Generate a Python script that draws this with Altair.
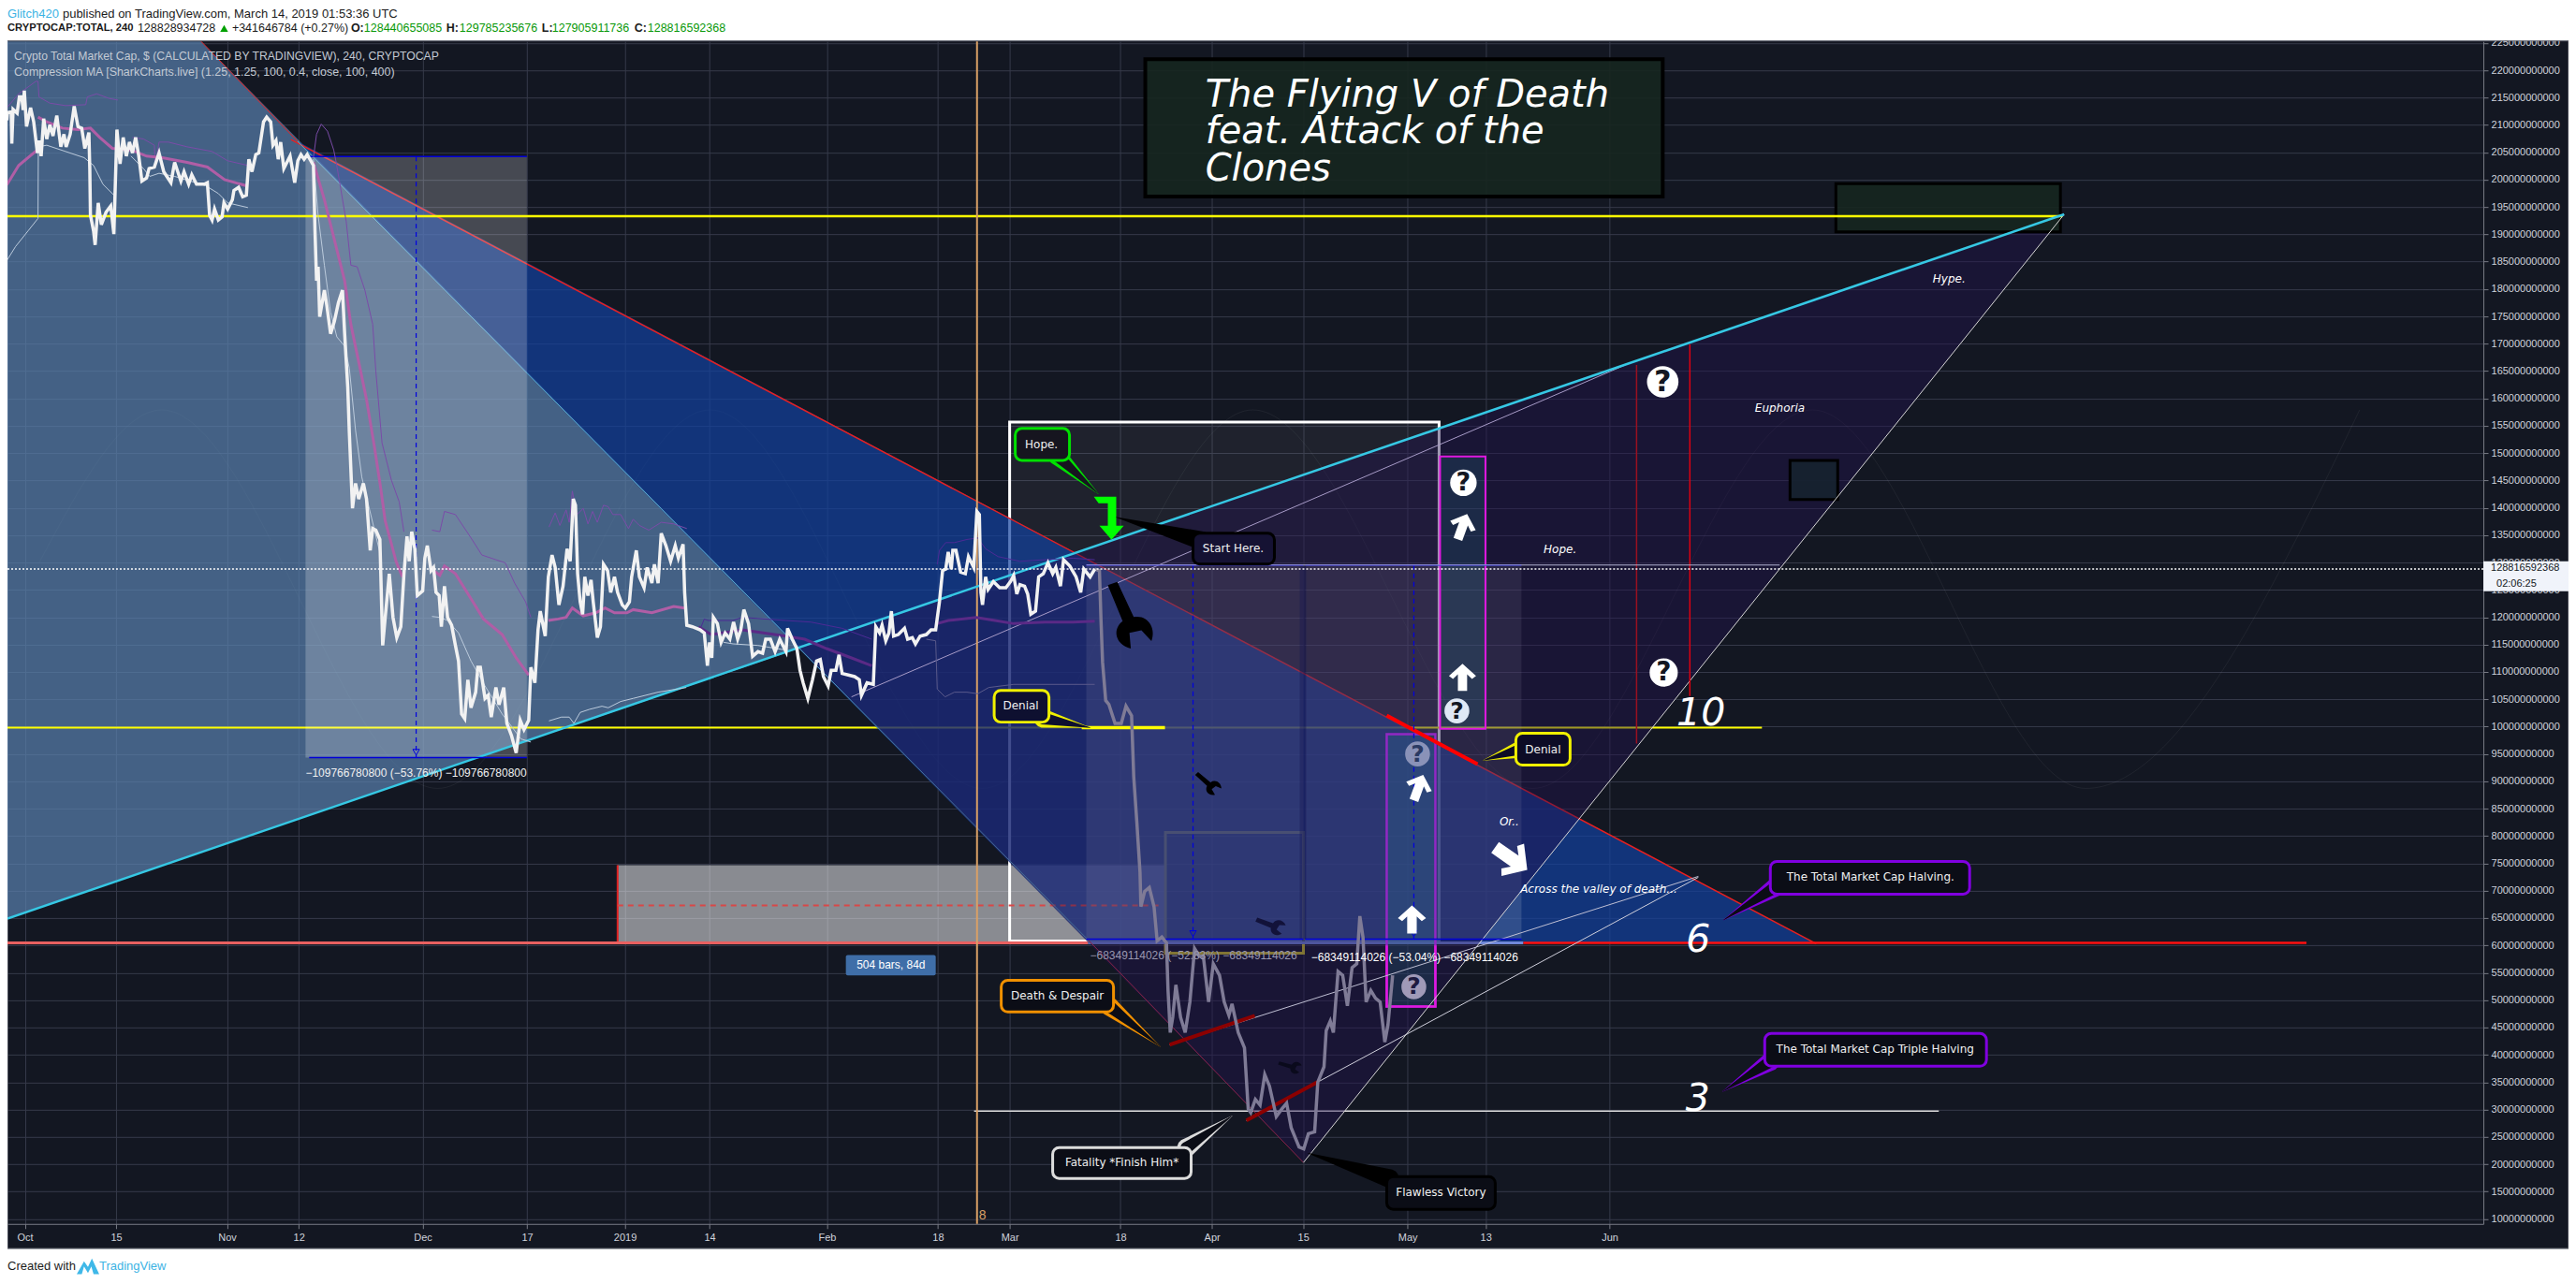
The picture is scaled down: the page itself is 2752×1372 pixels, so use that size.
import altair as alt
import pandas as pd

# ---------- readings: (days since 2019-03-01, market cap in $bn) ----------
PRICE_BRIGHT = [(-153.76,210.85),(-153.66,212.27),(-153.09,212.39),(-153.0,206.57),(-152.8,212.84),(-152.18,212.16),(-151.84,215.12),(-151.46,215.12),(-151.27,212.73),(-151.08,216.26),(-150.74,209.71),(-150.12,213.13),(-149.64,210.56),(-149.07,204.86),(-148.78,207.14),(-148.5,204.3),(-148.11,211.13),(-147.64,207.43),(-147.16,210.0),(-146.68,208.0),(-146.1,211.7),(-145.48,206.0),(-145.0,208.3),(-144.67,206.0),(-144.05,208.3),(-143.43,213.4),(-142.85,209.7),(-142.28,209.4),(-141.8,205.7),(-141.18,208.6),(-141.04,202.0),(-140.94,193.5),(-140.46,190.6),(-140.22,188.06),(-139.75,195.75),(-139.27,191.76),(-138.55,194.04),(-137.83,195.18),(-137.35,190.05),(-136.88,209.14),(-136.4,202.87),(-135.92,207.71),(-135.44,204.3),(-134.96,206.86),(-134.49,204.87),(-134.01,207.71),(-133.53,204.3),(-133.05,199.74),(-132.33,200.31),(-131.95,202.02),(-131.14,202.3),(-130.42,204.87),(-129.7,201.45),(-128.6,199.45),(-128.03,203.16),(-127.07,199.74),(-126.59,201.45),(-125.88,199.17),(-125.4,200.88),(-124.68,199.17),(-123.48,199.17),(-123.01,199.45),(-122.67,193.47),(-122.29,192.61),(-121.91,194.61),(-121.33,192.61),(-120.76,193.18),(-120.47,195.75),(-119.9,194.61),(-119.18,196.32),(-118.94,198.03),(-118.22,198.6),(-117.6,196.89),(-117.03,197.17),(-116.65,203.73),(-116.17,201.45),(-115.59,204.58),(-115.12,204.87),(-114.4,210.56),(-113.92,211.42),(-113.3,210.56),(-112.96,206.29),(-112.49,207.14),(-112.15,203.73),(-111.77,206.86),(-111.29,202.02),(-110.33,204.3),(-109.62,199.45),(-109.14,203.44),(-108.66,204.58),(-108.18,203.73),(-107.7,204.58),(-106.75,202.6),(-106.51,190.62),(-106.27,181.5),(-106.03,184.07),(-105.79,174.95),(-105.07,179.79),(-104.69,176.95),(-104.12,171.82),(-103.54,174.09),(-102.92,177.51),(-102.3,179.79),(-101.96,171.82),(-101.49,162.13),(-101.25,153.87),(-100.76,139.91),(-100.29,144.47),(-99.81,141.62),(-99.09,144.47),(-98.61,141.62),(-98.04,132.22),(-97.66,136.21),(-97.18,135.92),(-96.56,134.21),(-96.13,114.84),(-95.74,119.97),(-95.12,127.95),(-94.55,119.97),(-93.97,116.27),(-93.35,118.26),(-92.87,127.95),(-92.4,134.78),(-92.06,130.23),(-91.68,135.64),(-91.2,132.5),(-90.82,123.96),(-90.0,124.81),(-89.67,130.8),(-89.29,133.08),(-88.71,128.52),(-88.33,129.09),(-87.95,124.53),(-87.47,123.96),(-87.13,118.26),(-86.66,125.67),(-86.18,119.97),(-85.56,118.54),(-84.98,114.84),(-84.5,112.0),(-84.03,102.31),(-83.55,101.45),(-83.07,108.57),(-82.59,103.45),(-81.87,106.3),(-81.54,110.85),(-81.16,110.85),(-80.44,105.16),(-79.96,105.72),(-79.48,101.74),(-78.77,107.15),(-78.29,104.01),(-77.57,107.15),(-77.09,100.6),(-76.37,98.32),(-75.66,95.18),(-75.04,101.17),(-74.46,99.46),(-73.74,101.17),(-73.41,110.85),(-72.79,108.0),(-72.31,117.69),(-71.97,121.11),(-71.59,118.83),(-71.21,116.55),(-70.73,127.38),(-70.16,131.37),(-69.68,129.09),(-69.11,122.25),(-68.48,125.67),(-67.86,132.5),(-67.38,130.23),(-66.91,141.62),(-66.57,140.48),(-66.24,127.95),(-65.85,122.82),(-65.47,120.54),(-65.14,127.38),(-64.66,123.96),(-64.18,126.81),(-63.85,122.82),(-63.22,116.27),(-62.74,118.26),(-62.27,129.66),(-61.65,128.52),(-61.17,124.53),(-60.59,127.38),(-60.11,124.53),(-59.4,122.25),(-58.92,121.68),(-58.3,122.82),(-57.96,127.38),(-57.24,132.22),(-56.77,127.38),(-56.05,125.38),(-55.57,129.09),(-54.85,126.24),(-54.47,129.66),(-53.9,126.24),(-53.42,135.35),(-52.7,133.08),(-51.98,130.23),(-51.27,133.08),(-50.79,130.8),(-50.07,133.36),(-49.83,124.53),(-49.5,118.54),(-48.64,118.26),(-47.44,117.69),(-46.82,117.12),(-46.34,111.14),(-46.01,115.41),(-45.67,112.56),(-45.43,119.97),(-44.81,118.83),(-44.24,115.41),(-43.62,117.12),(-42.9,115.98),(-42.33,119.11),(-41.7,115.98),(-41.22,117.69),(-40.75,121.39),(-40.03,118.83),(-39.41,112.85),(-38.59,113.7),(-37.88,113.42),(-37.4,115.98),(-36.68,115.98),(-35.96,113.7),(-35.25,115.98),(-34.29,113.7),(-34.05,117.97),(-33.33,115.98),(-32.62,114.27),(-32.14,110.28),(-31.66,108.0),(-30.94,105.15),(-30.23,108.57),(-29.6,112.0),(-29.03,112.28),(-28.55,109.14),(-27.83,107.43),(-27.36,110.28),(-26.64,110.28),(-26.16,113.13),(-25.68,109.71),(-24.73,109.43),(-23.77,109.14),(-23.05,108.57),(-22.72,105.72),(-21.86,108.0),(-20.9,107.72),(-20.52,118.26),(-19.94,117.12),(-19.56,118.54),(-18.99,115.69),(-18.51,117.12),(-18.13,121.11),(-17.79,116.55),(-17.07,116.83),(-16.12,117.97),(-15.64,115.98),(-14.92,116.26),(-14.44,115.12),(-13.73,116.55),(-12.77,116.83),(-12.05,117.69),(-11.34,117.69),(-10.76,122.82),(-10.28,128.52),(-9.8,128.8),(-9.42,131.93),(-8.94,128.8),(-8.71,132.22),(-8.23,132.22),(-7.51,128.23),(-6.79,127.95),(-6.31,131.08),(-5.5,129.09),(-5.02,139.34),(-4.64,138.77),(-4.4,124.53),(-4.16,122.25),(-3.68,127.38),(-3.3,125.1),(-2.49,126.52),(-1.53,125.38),(-0.57,125.38),(0.14,126.52),(0.62,127.66),(1.1,124.24),(1.58,125.95),(2.29,125.67),(2.77,124.24),(3.25,120.54),(3.97,121.11),(4.45,127.38),(5.16,127.95),(5.88,129.94),(6.6,127.95),(7.08,129.09),(7.79,125.67),(8.27,130.51),(9.23,129.37),(10.19,127.38),(10.9,124.53),(11.38,128.8),(12.34,127.38),(13.05,128.8)]
PRICE_FADED = [(13.05,128.8),(13.77,128.51),(14.01,119.44),(14.25,111.76),(14.73,104.78),(15.21,104.09),(16.16,100.6),(17.12,100.6),(17.84,103.74),(18.7,102.0),(19.03,90.83),(19.51,82.45),(19.99,73.38),(20.13,67.1),(20.71,69.89),(21.42,70.59),(22.14,67.1),(22.62,60.82),(23.34,61.52),(24.05,60.47),(24.29,51.75),(24.63,44.07),(25.01,46.86),(25.49,52.8),(26.21,46.86),(26.92,44.07),(27.64,49.66),(28.36,59.43),(29.08,58.03),(29.7,58.03),(30.51,49.66),(31.23,56.63),(32.18,54.54),(32.9,49.66),(33.62,47.21),(34.1,49.31),(35.05,44.07),(36.01,41.28),(36.58,30.12),(36.97,29.42),(37.68,31.86),(38.4,30.81),(39.12,36.39),(39.84,34.3),(40.89,28.72),(41.75,30.12),(42.47,31.16),(43.18,26.63),(44.38,23.14),(45.1,22.79),(45.81,25.58),(46.77,25.93),(47.25,35.0),(48.2,37.79),(48.54,44.42),(49.16,46.17),(49.64,44.07),(50.36,55.24),(51.07,54.54),(51.79,48.96),(52.51,55.93),(53.23,56.63),(53.7,65.36),(54.18,61.52),(54.66,49.66),(55.38,51.75),(56.1,50.35),(56.81,49.66),(57.53,42.33),(58.01,45.47),(58.73,54.54)]

MA_PINK = [
 [(-153.76,199.05),(-151.94,202.59),(-149.07,205.43)],
 [(-148.98,211.42),(-147.64,210.56),(-145.25,209.42),(-142.85,209.14),(-140.94,209.42),(-139.51,207.71),(-137.59,205.72),(-134.72,205.43),(-132.33,204.3),(-129.94,204.01),(-126.12,203.16),(-123.01,202.3),(-120.38,200.0),(-117.03,198.88)],
 [(-106.75,203.16),(-105.07,196.32),(-103.4,188.34),(-101.96,181.5),(-101.01,173.53),(-99.81,166.69),(-98.62,159.85),(-97.42,151.3),(-96.47,143.89),(-95.75,137.63),(-94.08,130.22),(-93.11,127.38)],
 [(-88.33,128.52),(-87.37,127.66),(-86.66,129.37),(-84.98,127.95),(-82.59,123.39),(-80.68,119.68),(-77.81,116.84),(-75.66,112.56),(-73.74,109.43)],
 [(-70.73,119.4),(-69.2,119.68),(-68.01,119.97),(-67.05,121.68),(-65.37,120.25),(-63.46,120.82),(-62.03,121.68),(-60.59,120.82),(-58.68,120.82),(-57.72,121.39),(-54.85,120.82),(-51.51,121.96),(-49.83,121.68)],
]
MA_PURPLE = [
 [(-47.68,118.26),(-45.77,116.84),(-40.99,117.69),(-34.29,116.55),(-31.42,115.98),(-28.07,114.27),(-24.25,112.56),(-21.14,111.14)],
 [(-11.1,118.83),(-9.42,119.4),(-5.12,119.97),(-2.25,119.4),(0.62,118.83),(5.4,119.11),(9.71,119.11),(13.05,119.28)],
]
BAND_UPPER = [
 [(-153.76,213.13),(-151.94,215.69),(-149.31,217.97),(-148.98,217.97),(-148.83,215.12),(-147.16,213.98),(-144.77,213.53),(-141.66,213.7),(-141.42,215.12),(-139.98,215.69),(-138.07,214.84),(-136.73,214.55)],
 [(-134.49,207.71),(-132.81,207.43),(-131.14,206.29),(-130.99,202.59),(-130.42,206.86),(-128.98,206.86),(-126.12,206.0),(-122.29,205.15),(-119.9,203.44),(-116.79,202.59)],
 [(-106.75,204.01),(-106.27,208.28),(-105.55,210.16),(-104.59,208.85),(-103.64,205.43),(-103.26,203.16),(-102.68,199.17),(-101.72,192.33),(-101.01,184.35),(-100.05,184.07),(-98.86,179.79),(-97.66,173.53),(-97.18,164.98),(-96.23,151.87),(-94.79,145.04),(-93.59,141.05),(-92.88,135.63)],
 [(-88.57,135.92),(-87.37,135.64),(-86.66,139.34),(-84.98,138.77),(-82.59,134.5),(-80.92,131.37),(-78.77,130.51),(-77.33,129.94),(-75.9,126.24),(-74.22,122.82),(-73.41,119.97)],
 [(-70.63,136.49),(-69.68,139.06),(-68.96,136.78),(-68.01,139.63),(-67.53,137.35),(-67.05,143.05),(-66.33,138.77),(-65.37,139.91),(-64.66,137.06),(-63.94,139.34),(-63.22,137.35),(-62.27,140.48),(-61.55,140.2),(-60.83,138.77),(-59.64,138.77),(-58.44,136.21),(-57.72,137.92),(-56.77,136.78),(-55.33,135.92),(-53.42,137.35),(-51.51,137.06),(-49.5,136.21)],
]
BAND_UPPER_DIM = [
 [(-47.3,118.26),(-46.82,119.68),(-46.25,119.4),(-42.42,119.4),(-40.99,119.97),(-34.29,119.4),(-30.47,119.11),(-25.68,117.97),(-21.14,115.98)],
 [(-11.1,129.65),(-10.76,132.22),(-9.8,133.64),(-8.47,133.64),(-6.55,134.21),(-4.88,134.5),(-3.68,132.5),(-1.77,131.08),(1.58,130.22),(5.4,130.51),(9.71,130.79),(13.05,130.51)],
]
BAND_LOWER = [
 [(-153.76,185.21),(-152.42,187.77),(-150.51,190.62),(-148.98,192.9),(-148.93,206.0),(-147.64,206.29),(-144.77,205.15),(-141.9,204.01),(-140.46,202.59),(-139.03,199.17),(-137.11,196.89)],
 [(-134.72,204.3),(-132.81,202.02),(-131.85,200.59),(-130.42,201.16),(-128.03,200.59),(-123.25,198.88),(-121.33,197.46),(-119.9,195.75),(-116.79,194.89)],
 [(-106.75,203.73),(-106.03,193.47),(-105.07,184.35),(-104.12,175.8),(-103.16,171.25),(-101.96,169.54),(-101.25,165.55),(-100.29,154.15),(-99.33,145.6),(-96.47,131.36)],
 [(-88.57,120.14),(-87.37,119.97),(-86.18,119.4),(-84.5,117.12),(-82.59,112.0),(-80.44,107.43),(-77.81,102.31),(-76.37,100.03),(-74.94,97.75),(-73.41,97.18)],
 [(-70.63,101.05),(-68.72,101.74),(-67.53,101.74),(-66.81,100.6),(-65.85,102.59),(-64.42,103.16),(-62.51,103.73),(-61.55,103.45),(-59.64,104.59),(-57.72,105.16),(-53.9,106.3),(-49.59,107.15)],
 [(-43.85,115.41),(-42.42,115.13),(-38.59,114.84),(-34.29,113.99)],
]
BAND_LOWER_DIM = [(-12.77,115.98),(-11.34,115.69),(-11.1,106.86),(-9.9,105.44),(-8.47,106.29),(-6.55,106.29),(-4.88,106.01),(-3.2,107.15),(0.62,107.72),(13.05,107.72)]
CYCLE_CURVE = [(-148.8,130),(-130,157.9),(-87.7,88.7),(-45.9,157.9),(-4.2,88.7),(37.3,157.9),(80.2,88.7),(123.1,157.9),(165,88.7),(207,157.9)]

X_TICKS = ["2018-10-01","2018-10-15","2018-11-01","2018-11-12","2018-12-01","2018-12-17","2019-01-01","2019-01-14","2019-02-01","2019-02-18","2019-03-01","2019-03-18","2019-04-01","2019-04-15","2019-05-01","2019-05-13","2019-06-01"]
Y_TICKS = list(range(10, 230, 5))
TITLE_LINES = "The Flying V of Death\nfeat. Attack of the\nClones"

D_MIN, D_MAX, D_OUT = -153.66, 225.97, 239.03
V_TOP, V_BOT, V_AXIS, V_PAGE_TOP, V_PAGE_BOT = 225.27, 9.09, 4.58, 231.5, -0.6

BASE_MS = int(pd.Timestamp("2019-03-01", tz="UTC").value // 1_000_000)
DAY_MS = 86_400_000
def ms(d): return BASE_MS + d * DAY_MS
TICK_MS = [int(pd.Timestamp(s, tz="UTC").value // 1_000_000) for s in X_TICKS]

XS = alt.Scale(type="utc", domain=[ms(D_MIN), ms(D_MAX)], nice=False)
YS = alt.Scale(type="linear", domain=[V_BOT, V_TOP], nice=False, zero=False)
XAX = alt.Axis(title=None, values=TICK_MS, orient="bottom", grid=True, gridColor="#363a4a", gridWidth=1,
               domainColor="#787b86", tickColor="#787b86", tickSize=5, labelFont="Liberation Sans", labelFontSize=11,
               labelColor="#d0d3dc", labelPadding=4, labelOverlap=False, labelFlush=False, labelBound=False,
               labelExpr="utcdate(datum.value)==1 ? (utcmonth(datum.value)==0 ? utcyear(datum.value)+'' : utcFormat(datum.value,'%b')) : utcdate(datum.value)+''")
YAX = alt.Axis(title=None, values=Y_TICKS, orient="right", grid=True, gridColor="#363a4a", gridWidth=1,
               domainColor="#787b86", tickColor="#787b86", tickSize=5, labelFont="Liberation Sans", labelFontSize=11,
               labelColor="#d0d3dc", labelPadding=3, labelOverlap=False, labelFlush=False, labelBound=False,
               labelExpr="datum.value + '000000000'")
X = alt.X("t:T", scale=XS, axis=XAX)
Y = alt.Y("v:Q", scale=YS, axis=YAX)

def clean(kw): return {k: v for k, v in kw.items() if v is not None}

def line(pts, color, width=1.0, dash=None, opacity=None, interp=None, miter=None):
    df = pd.DataFrame({"t": [ms(p[0]) for p in pts], "v": [p[1] for p in pts]})
    kw = clean(dict(color=color, strokeWidth=width, strokeDash=dash, opacity=opacity, interpolate=interp, strokeMiterLimit=miter))
    return alt.Chart(df).mark_line(**kw).encode(x=X, y=Y)

def rect(d1, d2, v1, v2, fill="#000000", fo=1.0, stroke=None, sw=None, cr=None):
    df = pd.DataFrame({"t": [ms(d1)], "t2": [ms(d2)], "v": [v1], "v2": [v2]})
    kw = clean(dict(fill=fill, fillOpacity=fo, stroke=stroke, strokeWidth=sw, cornerRadius=cr))
    return alt.Chart(df).mark_rect(**kw).encode(x=X, x2=alt.X2("t2"), y=Y, y2=alt.Y2("v2"))

def poly(days, tops, bottoms, fill, fo):
    df = pd.DataFrame({"t": [ms(d) for d in days], "v": tops, "v2": bottoms})
    return alt.Chart(df).mark_area(fill=fill, fillOpacity=fo).encode(x=X, y=Y, y2=alt.Y2("v2"))

def text(d, v, s, color="#ffffff", size=12, font="DejaVu Sans", style=None, weight=None, align="center", baseline="middle", brk=None, lh=None):
    df = pd.DataFrame({"t": [ms(d)], "v": [v], "s": [s]})
    kw = clean(dict(color=color, fontSize=size, font=font, fontStyle=style, fontWeight=weight, align=align, baseline=baseline, lineBreak=brk, lineHeight=lh))
    return alt.Chart(df).mark_text(**kw).encode(x=X, y=Y, text=alt.Text("s:N"))

def sym(d, v, shape, size, color, angle=None, filled=True, width=None):
    df = pd.DataFrame({"t": [ms(d)], "v": [v]})
    kw = clean(dict(shape=shape, size=size, color=color, angle=angle, filled=filled, opacity=1, strokeWidth=width))
    return alt.Chart(df).mark_point(**kw).encode(x=X, y=Y)

def tail(base, tip, color, w):
    df = pd.DataFrame({"t": [ms(base[0]), ms(tip[0])], "v": [base[1], tip[1]], "w": [w, 0.5]})
    return alt.Chart(df).mark_trail(color=color).encode(x=X, y=Y, size=alt.Size("w:Q", scale=None, legend=None))

ARROW = "M0,-1 L1,-0.1 L0.7,0.12 L0.34,-0.22 L0.34,1 L-0.34,1 L-0.34,-0.22 L-0.7,0.12 L-1,-0.1 Z"
BENT = "M-0.52,-1 L0.52,-1 L0.52,0.35 L0.87,0.35 L0.3,1 L-0.26,0.35 L0.13,0.35 L0.13,-0.7 L-0.3,-0.7 Z"
WRENCH = "M-0.2,-1 L0.1,-1 L0.2,0.15 C0.62,0.22 0.72,0.7 0.45,1 L0.28,0.6 L-0.08,0.55 L-0.2,1 C-0.62,0.7 -0.5,0.25 -0.15,0.15 Z"
LOGO = "M-1,0.7 L-0.35,-0.45 L0,0.05 L0.35,-0.7 L1,0.7 L0.5,0.7 L0.3,0 L0,0.6 L-0.35,0 L-0.55,0.7 Z"

QUESTIONS = [(100.14,163.04,19,"#ffffff","#131722"),(100.29,109.88,17,"#ffffff","#131722"),(69.58,144.58,16,"#ffffff","#131722"),
             (68.58,102.87,15,"#dfe8f5","#131722"),(62.55,95.0,15,"#8a92b8","#2b3a63"),(61.98,52.44,15,"#a09ab8","#1e1a40")]
ARROWS = [(69.44,109.03,29,0),(69.44,136.55,29,20),(61.69,64.75,30,0),(62.7,88.85,29,20),(76.9,75.86,42,125)]
WRENCHES = [(17.79,120.48,72,340,"#000000"),(30.27,89.71,30,315,"#000000"),(39.89,63.73,31,295,"#12123a"),(42.9,37.9,24,290,"#0a0a1c")]

# label, d1, d2, v1, v2, text d, text v, tail base, tail tip, border, fill, font size
CALLOUTS = [
 ("Hope.",0.86,9.18,154.5,148.68,4.88,151.6,(7.32,149.5),(13.63,142.53),"#00e000","#16151f",12),
 ("Start Here.",28.12,40.6,135.35,129.71,34.29,132.62,(29.55,133.98),(16.36,138.26),"#000000","#151233",12),
 ("Denial",-2.37,6.03,106.63,100.82,1.72,103.9,(5.16,101.5),(12.34,99.8),"#f0f000","#0e1030",12),
 ("Denial",77.62,85.94,98.77,92.96,81.78,95.86,(78.77,96.03),(72.6,93.81),"#f0f000","#0d0c26",12),
 ("The Total Market Cap Halving.",116.64,147.2,75.35,69.37,132.0,72.45,(117.36,70.6),(109.47,64.67),"#8000e0","#0b0d16",12),
 ("The Total Market Cap Triple Halving",115.78,149.78,43.9,37.91,132.71,40.99,(116.64,38.77),(109.33,33.3),"#8000e0","#0b0d16",12),
 ("Death & Despair",-1.29,15.93,53.64,47.83,7.32,50.74,(15.35,48.8),(23.1,41.5),"#f09000","#0b0d16",12),
 ("Fatality *Finish Him*",6.6,27.83,23.04,17.4,17.22,20.31,(27.12,23.0),(34.15,28.85),"#dcdcdc","#0b0d16",12),
 ("Flawless Victory",57.82,74.46,17.74,11.76,66.14,14.84,(58.25,17.4),(45.77,22.02),"#000000","#0b0d16",12),
]

L = []
# page furniture (the chart background is the dark panel; axes sit underneath all marks)
L.append(rect(D_MIN, D_OUT, V_PAGE_TOP, V_TOP + 0.17, fill="#ffffff"))
L.append(rect(D_MIN, D_OUT, V_AXIS, V_PAGE_BOT, fill="#ffffff"))
L.append(rect(D_MIN, D_OUT, V_TOP + 0.1, V_AXIS, fill="#000000", fo=0, stroke="#787b86", sw=1))
L.append(line(CYCLE_CURVE, "#ffffff", 1, opacity=0.06, interp="monotone"))

# boxes lying underneath the large wedges
L.append(rect(-60.11, 23.82, 74.67, 60.65, fill="#ffffff", fo=0.5))
L.append(line([(-60.11,74.67),(-60.11,60.4)], "#e02020", 2))
L.append(rect(0, 65.85, 155.69, 60.82, fill="#ffffff", fo=0.05, stroke="#ffffff", sw=3))
L.append(rect(23.89, 45.05, 80.65, 58.6, fill="#000000", fo=0, stroke="#c8c020", sw=3))
L.append(line([(-5.45,29.71),(142.47,29.71)], "#dcdcdc", 1.5))

# left wash, lower yellow level, blue wedge, red edge
L.append(poly([-153.66,-123.96,-32.14],[225.27,225.27,114.32],[64.92,77.06,114.32],"#5a82af",0.7))
L.append(line([(-153.66,99.8),(115.35,99.8)], "#ffff00", 2))
L.append(poly([-109.18,12.05,123.67],[207.0,130.56,60.31],[207.0,60.65,60.31],"#1242a0",0.7))
L.append(line([(-60.11,67.32),(23.3,67.32)], "#d84848", 2, dash=[6,5]))
L.append(line([(-110.19,207.32),(123.67,60.31)], "#e82020", 1.5))
L.append(line([(-153.66,60.48),(12.05,60.48)], "#e86060", 3))
L.append(line([(12.05,60.48),(78.77,60.48)], "#7088d8", 3))
L.append(line([(78.77,60.48),(198.85,60.48)], "#ff1010", 2.5))
L.append(line([(-109.18,207.0),(12.05,60.99)], "#5fb0c8", 1))

# measured ranges
L.append(rect(-107.96, -74.03, 204.24, 94.32, fill="#ffffff", fo=0.22))
L.append(rect(11.76, 45.05, 129.54, 61.16, fill="#ffffff", fo=0.15))
L.append(rect(45.34, 78.48, 129.54, 61.16, fill="#ffffff", fo=0.13))
L.append(rect(44.48, 45.48, 129.54, 61.16, fill="#101c58", fo=0.4))

# the V
L.append(poly([-32.14,45.05,161.69],[114.32,145.92,193.65],[114.32,20.31,193.65],"#23124e",0.43))

# grey-green boxes and title panel
L.append(rect(20.8, 100.14, 222.02, 196.89, fill="#16261f", fo=0.9, stroke="#000000", sw=4))
L.append(rect(126.69, 161.12, 199.28, 190.46, fill="#16261f", fo=0.9, stroke="#000000", sw=3))
L.append(rect(119.66, 126.97, 148.68, 141.5, fill="#16222f", fo=0.95, stroke="#000000", sw=3))
L.append(rect(66.0, 72.96, 149.37, 99.62, fill="#2f8a9a", fo=0.18, stroke="#e018e0", sw=2))
L.append(rect(57.82, 65.28, 98.6, 48.85, fill="#2f8a9a", fo=0.18, stroke="#9228c4", sw=2.5))
L.append(line([(57.82,60.0),(57.82,48.85),(65.28,48.85),(65.28,60.0)], "#e018e0", 2.5))

# levels and trend lines
L.append(line([(-153.66,193.3),(161.4,193.3)], "#ffff00", 2.5))
L.append(line([(-123.96,225.27),(-109.18,207.0)], "#e82020", 1))
L.append(line([(12.05,60.99),(45.05,20.31)], "#8a2448", 1))
L.append(line([(45.05,20.31),(161.69,193.65)], "#d8d8d8", 1))
L.append(line([(-24.25,105.44),(94.4,166.12)], "#a89cc8", 1))
L.append(line([(24.53,41.85),(105.6,72.62)], "#c0c0d4", 1))
L.append(line([(36.3,28.0),(105.6,72.45)], "#d0d0dc", 1))
L.append(line([(24.53,41.85),(37.59,47.15)], "#8c0000", 4))
L.append(line([(36.3,28.0),(47.2,35.01)], "#8c0000", 4))
L.append(line([(57.82,102.02),(71.74,93.13)], "#ff0000", 4))
L.append(line([(96.13,166.12),(96.13,96.89)], "#9a1020", 1.5))
L.append(line([(104.3,169.88),(104.3,105.61)], "#e00010", 1.5))
L.append(line([(-5.0,225.27),(-5.0,9.09)], "#d9a066", 2))
L.append(line([(-153.66,64.92),(161.69,193.65)], "#36c8e4", 2.5))
L.append(line([(11.05,99.8),(23.82,99.8)], "#ffff00", 3.5))

# range lines
for a, b, va, vb, dd in [(-107.4,-74.03,204.24,94.32,-91.0),(11.76,45.05,129.54,61.16,28.12),(45.34,78.48,129.54,61.16,61.98)]:
    L.append(line([(a,va),(b,va)], "#0000d8", 1.5))
    L.append(line([(a,vb),(b,vb)], "#0000d8", 1.5))
    L.append(line([(dd,va),(dd,vb)], "#0000e0", 1.2, dash=[5,4]))
    L.append(sym(dd, vb + 1.0, "triangle-down", 50, "#0000e0", filled=False, width=1))
L.append(line([(11.76,129.54),(118.08,129.54)], "#b4b4d4", 1))

# indicator bands and moving averages
for seg in BAND_UPPER:
    L.append(line(seg, "#7a4ba8", 1))
for seg in BAND_UPPER_DIM:
    L.append(line(seg, "#4c2a96", 1))
for seg in BAND_LOWER:
    L.append(line(seg, "#bccbdc", 1))
L.append(line(BAND_LOWER_DIM, "#5a5a8c", 1))
for seg in MA_PINK:
    L.append(line(seg, "#b05ea6", 3))
for seg in MA_PURPLE:
    L.append(line(seg, "#5a2a86", 3))

# price
L.append(line(PRICE_FADED, "#7f7b96", 3.5, miter=4))
L.append(line(PRICE_BRIGHT, "#f2f2f2", 3.5, miter=4))
L.append(line([(D_MIN,128.8),(D_MAX,128.8)], "#ffffff", 1.5, dash=[2,2]))

# icons
for d, v, h, a in ARROWS:
    L.append(sym(d, v, ARROW, h * h, "#ffffff", angle=a))
for d, v, h, a, c in WRENCHES:
    L.append(sym(d, v, WRENCH, h * h, c, angle=a))
for d, v, r, c, q in QUESTIONS:
    L.append(sym(d, v, "circle", 3.1416 * r * r, c))
    L.append(text(d, v, "?", q, int(r * 1.7), weight="bold"))
L.append(sym(14.63, 138.09, BENT, 2116, "#00ff00"))

# call-outs
for lab, d1, d2, v1, v2, td, tv, base, tip, col, fill, fs in CALLOUTS:
    L.append(tail(base, tip, col, 20))
    if col != "#000000":
        L.append(tail(base, tip, fill, 13))
    L.append(rect(d1, d2, v1, v2, fill=fill, stroke=col, sw=3, cr=7))
    L.append(text(td, tv, lab, "#f0f0f0", fs))
L.append(rect(-25.11, -11.33, 58.25, 54.5, fill="#3f6ea8", cr=2))
L.append(text(-18.2, 56.4, "504 bars, 84d", "#ffffff", 12, font="Liberation Sans"))

# annotations on the chart
L.append(text(-91.0, 91.6, "\u2212109766780800 (\u221253.76%) \u2212109766780800", "#f0f0f0", 12, font="Liberation Sans"))
L.append(text(28.2, 58.1, "\u221268349114026 (\u221252.83%) \u221268349114026", "#9a98b0", 12, font="Liberation Sans"))
L.append(text(62.1, 57.75, "\u221268349114026 (\u221253.04%) \u221268349114026", "#ffffff", 12, font="Liberation Sans"))
L.append(text(30.0, 213.35, TITLE_LINES, size=40, style="italic", align="left", baseline="alphabetic", brk="\n", lh=39.5))
L.append(text(144.05, 181.8, "Hype.", style="italic"))
L.append(text(118.1, 158.3, "Euphoria", style="italic"))
L.append(text(84.4, 132.4, "Hope.", style="italic"))
L.append(text(76.6, 82.6, "Or..", style="italic"))
L.append(text(78.3, 70.3, "Across the valley of death...", size=12, style="italic", align="left"))
L.append(text(106.0, 100.3, "10", size=41, style="italic", align="center", baseline="alphabetic"))
L.append(text(105.6, 58.9, "6", size=41, style="italic", align="center", baseline="alphabetic"))
L.append(text(105.5, 29.7, "3", size=41, style="italic", align="center", baseline="alphabetic"))
L.append(text(-4.16, 10.56, "8", "#d9a066", 14, font="Liberation Sans", align="center"))

# chart legend
L.append(text(-152.65, 222.53, "Crypto Total Market Cap, $ (CALCULATED BY TRADINGVIEW), 240, CRYPTOCAP", "#c3cad4", 12.2, font="Liberation Sans", align="left"))
L.append(text(-152.65, 219.62, "Compression MA [SharkCharts.live] (1.25, 1.25, 100, 0.4, close, 100, 400)", "#c3cad4", 12.45, font="Liberation Sans", align="left"))

# last-price tag
L.append(rect(D_MAX, D_OUT, 130.22, 124.75, fill="#f0f3fa"))
L.append(text(227.12, 129.03, "128816592368", "#131722", 11, font="Liberation Sans", align="left"))
L.append(text(227.98, 126.12, "02:06:25", "#131722", 11, font="Liberation Sans", align="left"))

# page header and footer
HF = "Liberation Sans"
L.append(text(D_MIN, 230.2, "Glitch420", "#3bb3e4", 13, font=HF, align="left"))
L.append(text(-145.2, 230.2, "published on TradingView.com, March 14, 2019 01:53:36 UTC", "#1b1b1b", 13, font=HF, align="left"))
L.append(text(D_MIN, 227.66, "CRYPTOCAP:TOTAL, 240", "#1b1b1b", 11.2, font=HF, weight="bold", align="left"))
L.append(text(-133.72, 227.66, "128828934728", "#1b1b1b", 12.5, font=HF, align="left"))
L.append(sym(-120.44, 227.66, "triangle-up", 70, "#00a000"))
L.append(text(-119.23, 227.66, "+341646784 (+0.27%)", "#1b1b1b", 12.5, font=HF, align="left"))
for lab, d1, val, d2 in [("O:",-101.0,"128440655085",-99.0),("H:",-86.37,"129785235676",-84.36),("L:",-71.74,"127905911736",-70.16),("C:",-57.53,"128816592368",-55.52)]:
    L.append(text(d1, 227.66, lab, "#1b1b1b", 12.5, font=HF, weight="bold", align="left"))
    L.append(text(d2, 227.66, val, "#089808", 12.5, font=HF, align="left"))
L.append(text(D_MIN, 1.33, "Created with", "#1b1b1b", 13, font=HF, align="left"))
L.append(sym(-141.32, 1.33, LOGO, 576, "#3fb8e8"))
L.append(text(-139.6, 1.33, "TradingView", "#3bb3e4", 13, font=HF, align="left"))

chart = alt.layer(*L).properties(
    width=2646, height=1264, background="#131722",
    padding={"left": 0, "top": 36, "right": 91, "bottom": 56},
    autosize=alt.AutoSizeParams(type="none", contains="content"),
).configure_view(stroke=None)

chart.save("out.html", embed_options={"renderer": "svg", "actions": False})
